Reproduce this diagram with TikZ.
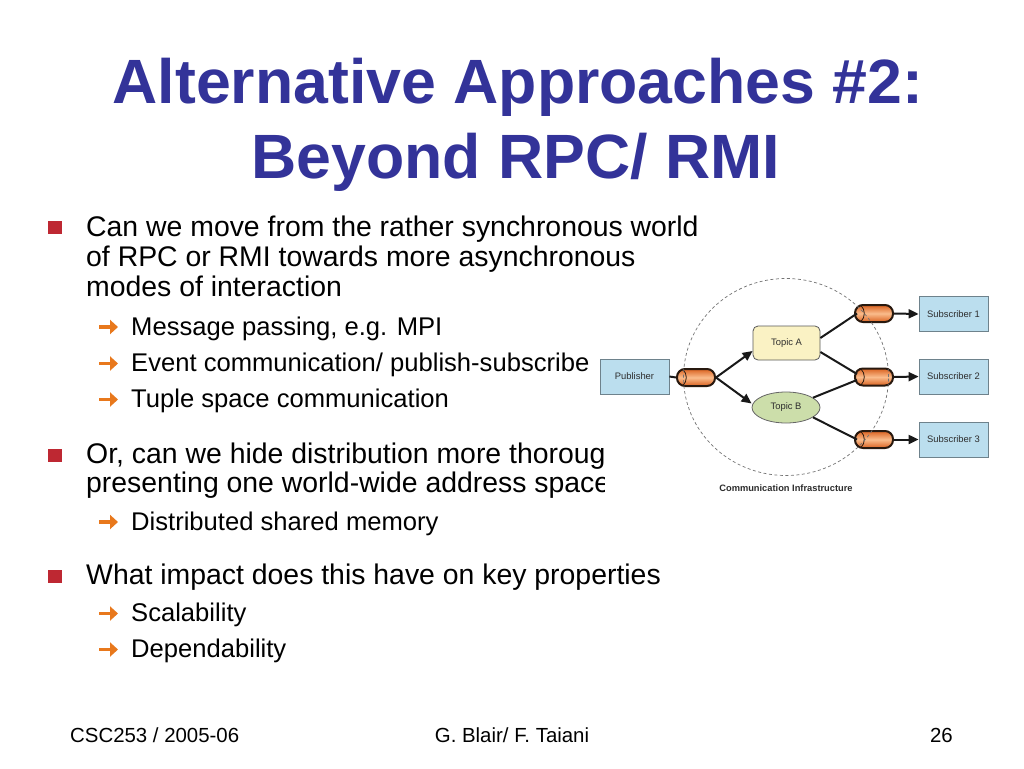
\documentclass[tikz,border=0pt]{standalone}
\usepackage{fontspec}
\setmainfont{Liberation Sans}
\usetikzlibrary{arrows.meta,shapes.geometric}
\definecolor{titleblue}{RGB}{51,51,153}
\definecolor{bulletred}{RGB}{190,40,50}
\definecolor{arroworange}{RGB}{232,120,28}
\definecolor{boxblue}{RGB}{187,222,238}
\definecolor{boxline}{RGB}{110,130,140}
\definecolor{topicyellow}{RGB}{250,242,196}
\definecolor{topicgreen}{RGB}{204,222,170}
\definecolor{pipedark}{RGB}{218,98,32}
\definecolor{pipelight}{RGB}{250,188,140}
\definecolor{pipeborder}{RGB}{40,25,15}
\definecolor{diagtext}{RGB}{45,45,45}
\tikzset{
  titletext/.style={anchor=base, inner sep=0pt, text=titleblue, font=\fontsize{62.6}{75}\selectfont\bfseries},
  bodytext/.style={anchor=base west, inner sep=0pt, font=\fontsize{28.4}{30}\selectfont},
  subtext/.style={anchor=base west, inner sep=0pt, font=\fontsize{25.6}{28}\selectfont},
  foottext/.style={anchor=base, inner sep=0pt, font=\fontsize{20.4}{22}\selectfont},
  sqbullet/.style={fill=bulletred},
  subarrow/.style={draw=arroworange, line width=3.8pt, -{Triangle[length=8pt,width=14pt]}},
  boxnode/.style={rectangle, draw=boxline, line width=0.8pt, fill=boxblue, minimum width=69pt, minimum height=35pt, inner sep=0pt, text=diagtext, font=\fontsize{9.4}{11}\selectfont},
  pipe/.style={rectangle, rounded corners=8pt, minimum width=38pt, minimum height=17pt, inner sep=0pt, draw=pipeborder, line width=2pt, top color=pipedark, bottom color=pipedark, middle color=pipelight},
  conn/.style={draw=black!90, line width=2pt},
  connarrow/.style={conn, -{Triangle[length=10pt,width=9pt]}},
}
\begin{document}
\begin{tikzpicture}[x=1pt,y=-1pt]
\useasboundingbox (0,0) rectangle (1024,768);
\fill[white] (0,0) rectangle (1024,768);

% Title
\node[titletext] (t1) at (518,103) {Alternative Approaches \#2:};
\node[titletext] (t2) at (516,178) {Beyond RPC/ RMI};

% Bullet 1
\fill[sqbullet] (48,221) rectangle (62,234);
\node[bodytext] (b1a) at (86,236) {Can we move from the rather synchronous world};
\node[bodytext] (b1b) at (86,266) {of RPC or RMI towards more asynchronous};
\node[bodytext] (b1c) at (86,296) {modes of interaction};
\draw[subarrow] (99,327) -- (118,327);
\node[subtext] (s1a) at (131,335) {Message passing, e.g. MPI};
\draw[subarrow] (99,363.5) -- (118,363.5);
\node[subtext] (s1b) at (131,371.5) {Event communication/ publish-subscribe};
\draw[subarrow] (99,399.5) -- (118,399.5);
\node[subtext] (s1c) at (131,407.5) {Tuple space communication};

% Bullet 2 (clipped by the diagram picture)
\fill[sqbullet] (48,449) rectangle (62,462);
\begin{scope}
\clip (0,430) rectangle (604,505);
\node[bodytext] (b2a) at (86,463) {Or, can we hide distribution more thoroug};
\node[bodytext] (b2b) at (86,492) {presenting one world-wide address space};
\end{scope}
\draw[subarrow] (99,522) -- (118,522);
\node[subtext] (s2a) at (131,530) {Distributed shared memory};

% Bullet 3
\fill[sqbullet] (48,570) rectangle (62,583);
\node[bodytext] (b3a) at (86,584) {What impact does this have on key properties};
\draw[subarrow] (99,613.5) -- (118,613.5);
\node[subtext] (s3a) at (131,621.5) {Scalability};
\draw[subarrow] (99,649.5) -- (118,649.5);
\node[subtext] (s3b) at (131,657.5) {Dependability};

% Footer
\node[foottext, anchor=base west] (f1) at (70,742) {CSC253 / 2005-06};
\node[foottext] (f2) at (512,742) {G. Blair/ F. Taiani};
\node[foottext, anchor=base east] (f3) at (953,742) {26};

% Diagram
\node[boxnode] (pub) at (634.5,376.5) {Publisher};
\node[pipe] (ppub) at (696,377.5) {};
\node[rectangle, rounded corners=5pt, draw=black!65, line width=0.8pt, fill=topicyellow, minimum width=67pt, minimum height=34pt, inner sep=0pt, text=diagtext, font=\fontsize{9.4}{11}\selectfont] (tA) at (786.5,343) {Topic A};
\node[ellipse, draw=black!60, line width=0.8pt, fill=topicgreen, minimum width=68pt, minimum height=31pt, inner sep=0pt, text=diagtext, font=\fontsize{9.4}{11}\selectfont] (tB) at (786,407.5) {Topic B};
\node[pipe] (p1) at (874,313.5) {};
\node[pipe] (p2) at (874,377) {};
\node[pipe] (p3) at (874,439.5) {};
\node[boxnode] (s1) at (953.5,314) {Subscriber 1};
\node[boxnode] (s2) at (953.5,376.5) {Subscriber 2};
\node[boxnode] (s3) at (953.5,439.5) {Subscriber 3};

\foreach \p in {ppub,p1,p2,p3}{
  \draw[pipeborder, line width=0.8pt] ([xshift=7pt,yshift=-1.5pt]\p.north west) to[bend left=45] ([xshift=7pt,yshift=1.5pt]\p.south west);
}

\draw[conn] (pub.east) -- (ppub.west);
\draw[connarrow] (ppub.east) -- ([yshift=-8pt]tA.west);
\draw[connarrow] (ppub.east) -- ([yshift=4pt]tB.west);
\draw[conn] ([yshift=5pt]tA.east) -- ([xshift=3pt]p1.west);
\draw[conn] ([yshift=-9pt]tA.east) -- ([xshift=3pt,yshift=3pt]p2.west);
\draw[conn] (tB.20) -- ([xshift=3pt,yshift=-3pt]p2.west);
\draw[conn] (tB.-20) -- ([xshift=3pt]p3.west);
\draw[connarrow] (p1.east) -- (s1.west);
\draw[connarrow] (p2.east) -- (s2.west);
\draw[connarrow] (p3.east) -- (s3.west);

\node[ellipse, draw=black!55, line width=0.7pt, dash pattern=on 3pt off 2.5pt, minimum width=205pt, minimum height=197pt, inner sep=0pt] (infra) at (786,377) {};
\node[inner sep=0pt, text=diagtext, font=\fontsize{9.3}{11}\selectfont\bfseries] (lab) at (786,488) {Communication Infrastructure};
\end{tikzpicture}
\end{document}
